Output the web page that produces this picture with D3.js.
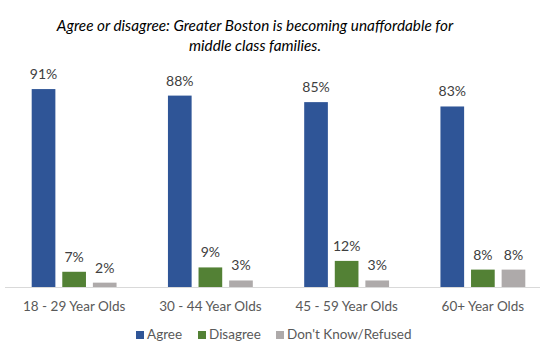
<!DOCTYPE html>
<html><head><meta charset="utf-8">
<script src="https://cdn.jsdelivr.net/npm/d3@7"></script>
<style>body{margin:0;background:#fff}svg{display:block}</style>
</head><body>
<svg id="c" width="543" height="359"></svg>
<script>
const categories = ["18 - 29 Year Olds", "30 - 44 Year Olds", "45 - 59 Year Olds", "60+ Year Olds"];
const seriesNames = ["Agree", "Disagree", "Don't Know/Refused"];
const agree = [91, 88, 85, 83];
const disagree = [7, 9, 12, 8];
const dontKnow = [2, 3, 3, 8];
const colors = ["#2F5597", "#538135", "#AEAAAA"];
const titleLines = ["Agree or disagree: Greater Boston is becoming unaffordable for", "middle class families."];

const series = [agree, disagree, dontKnow];
const svg = d3.select("#c");
const font = "Lato, 'Open Sans', sans-serif";

const x0 = d3.scaleBand().domain(categories).range([6, 551]).paddingInner(0).paddingOuter(0);
const x1 = d3.scaleBand().domain(seriesNames).range([0, x0.bandwidth()]).paddingInner(0.226).paddingOuter(0.84);
const y = d3.scaleLinear().domain([0, 100]).range([287, 69.5]);

// title
svg.append("g").selectAll("text").data(titleLines).join("text")
  .attr("x", 255).attr("y", (d, i) => 31 + i * 20)
  .attr("text-anchor", "middle").attr("font-family", font).attr("font-style", "italic")
  .attr("font-size", 15.3).attr("fill", "#000").text(d => d);

// bars
const groups = svg.append("g").selectAll("g").data(categories).join("g")
  .attr("transform", d => `translate(${x0(d)},0)`);
groups.each(function(cat, ci) {
  const g = d3.select(this);
  seriesNames.forEach((s, si) => {
    const v = series[si][ci];
    g.append("rect").attr("x", x1(s)).attr("width", x1.bandwidth())
      .attr("y", y(v)).attr("height", y(0) - y(v)).attr("fill", colors[si]);
    g.append("text").attr("x", x1(s) + x1.bandwidth() / 2).attr("y", y(v) - 10)
      .attr("text-anchor", "middle").attr("font-family", font).attr("font-size", 14)
      .attr("fill", "#404040").text(v + "%");
  });
});

// axis
const xAxis = d3.axisBottom(x0).tickSize(0).tickPadding(14);
const ax = svg.append("g").attr("transform", `translate(0,${y(0)})`).call(xAxis);
ax.select(".domain").remove();
ax.append("line").attr("x1", 5).attr("x2", 540).attr("y1", 0.5).attr("y2", 0.5).attr("stroke", "#D9D9D9").attr("stroke-width", 1);
ax.selectAll(".tick text").attr("font-family", font).attr("font-size", 13.5).attr("fill", "#595959");

// legend
const legendX = [136, 198, 276];
const lg = svg.append("g").selectAll("g").data(seriesNames).join("g")
  .attr("transform", (d, i) => `translate(${legendX[i]},339)`);
lg.append("rect").attr("x", 0).attr("y", -8).attr("width", 8).attr("height", 8).attr("fill", (d, i) => colors[i]);
lg.append("text").attr("x", 11).attr("y", 0).attr("font-family", font).attr("font-size", 13.5)
  .attr("fill", "#595959").text(d => d);
</script>
</body></html>
